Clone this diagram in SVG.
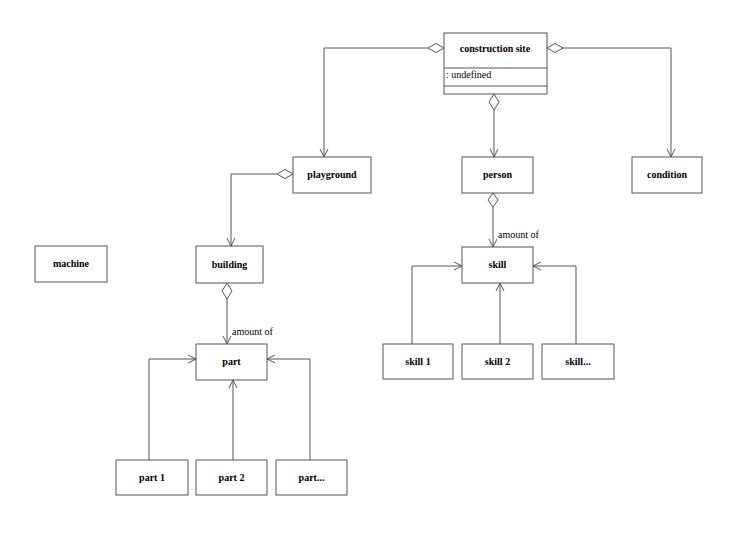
<svg xmlns="http://www.w3.org/2000/svg" width="750" height="549" viewBox="0 0 750 549">
<defs>
<style>
.box{fill:#fff;stroke:#555;stroke-width:1}
.t{font-family:"Liberation Serif","Times New Roman",serif;font-size:10px;font-weight:bold;fill:#000;text-anchor:middle}
.l{font-family:"Liberation Serif","Times New Roman",serif;font-size:10px;fill:#000}
.c{fill:none;stroke:#555;stroke-width:1}
.d{fill:#fff;stroke:#555;stroke-width:1}
</style>
<marker id="arr" viewBox="0 0 10 10" refX="9" refY="5" markerWidth="10" markerHeight="10" markerUnits="userSpaceOnUse" orient="auto">
<path d="M1,1 L9,5 L1,9" fill="none" stroke="#555" stroke-width="1"/>
</marker>
</defs>
<rect width="750" height="549" fill="#fff"/>
<g id="connectors">
<path class="c" d="M428,48 H324 V157" marker-end="url(#arr)"/>
<path class="c" d="M562,48 H671 V157" marker-end="url(#arr)"/>
<path class="c" d="M494,110 V157" marker-end="url(#arr)"/>
<path class="c" d="M277,174 H231 V246" marker-end="url(#arr)"/>
<path class="c" d="M227,298 V344" marker-end="url(#arr)"/>
<path class="c" d="M493,207 V247" marker-end="url(#arr)"/>
<path class="c" d="M149,460 V359 H196" marker-end="url(#arr)"/>
<path class="c" d="M233,460 V380" marker-end="url(#arr)"/>
<path class="c" d="M310,460 V359 H267" marker-end="url(#arr)"/>
<path class="c" d="M412,344 V266 H462" marker-end="url(#arr)"/>
<path class="c" d="M500,344 V283" marker-end="url(#arr)"/>
<path class="c" d="M576,344 V266 H533" marker-end="url(#arr)"/>
<polygon class="d" points="444,48 436,43.5 428,48 436,52.5"/>
<polygon class="d" points="547,48 555,43.5 563,48 555,52.5"/>
<polygon class="d" points="494,94 489,102 494,110 499,102"/>
<polygon class="d" points="293,174 285,169.5 277,174 285,178.5"/>
<polygon class="d" points="227,283 222,291 227,299 232,291"/>
<polygon class="d" points="493,193 488,200 493,207 498,200"/>
<text class="l" x="232" y="335">amount of</text>
<text class="l" x="498" y="238">amount of</text>
</g>
<g id="construction-site">
<rect class="box" x="444" y="33" width="103" height="61"/>
<line class="c" x1="444" y1="68" x2="547" y2="68"/>
<line class="c" x1="444" y1="86" x2="547" y2="86"/>
<text class="t" x="495" y="52">construction site</text>
<text class="l" x="446" y="78">: undefined</text>
</g>
<g id="playground"><rect class="box" x="293" y="157" width="78" height="36"/><text class="t" x="332" y="178">playground</text></g>
<g id="person"><rect class="box" x="462" y="157" width="71" height="36"/><text class="t" x="497.5" y="178">person</text></g>
<g id="condition"><rect class="box" x="632" y="157" width="70" height="36"/><text class="t" x="667" y="178">condition</text></g>
<g id="machine"><rect class="box" x="35" y="246" width="72" height="36"/><text class="t" x="71" y="267">machine</text></g>
<g id="building"><rect class="box" x="196" y="246" width="67" height="37"/><text class="t" x="229.5" y="268">building</text></g>
<g id="skill"><rect class="box" x="462" y="247" width="71" height="36"/><text class="t" x="497.5" y="268">skill</text></g>
<g id="part"><rect class="box" x="196" y="344" width="71" height="36"/><text class="t" x="231.5" y="365">part</text></g>
<g id="skill1"><rect class="box" x="383" y="344" width="70" height="35"/><text class="t" x="418" y="365">skill 1</text></g>
<g id="skill2"><rect class="box" x="462" y="344" width="71" height="35"/><text class="t" x="497.5" y="365">skill 2</text></g>
<g id="skill3"><rect class="box" x="542" y="344" width="72" height="35"/><text class="t" x="578" y="365">skill...</text></g>
<g id="part1"><rect class="box" x="116" y="460" width="72" height="35"/><text class="t" x="152" y="481">part 1</text></g>
<g id="part2"><rect class="box" x="196" y="460" width="71" height="35"/><text class="t" x="231.5" y="481">part 2</text></g>
<g id="part3"><rect class="box" x="276" y="460" width="71" height="35"/><text class="t" x="311.5" y="481">part...</text></g>
</svg>
